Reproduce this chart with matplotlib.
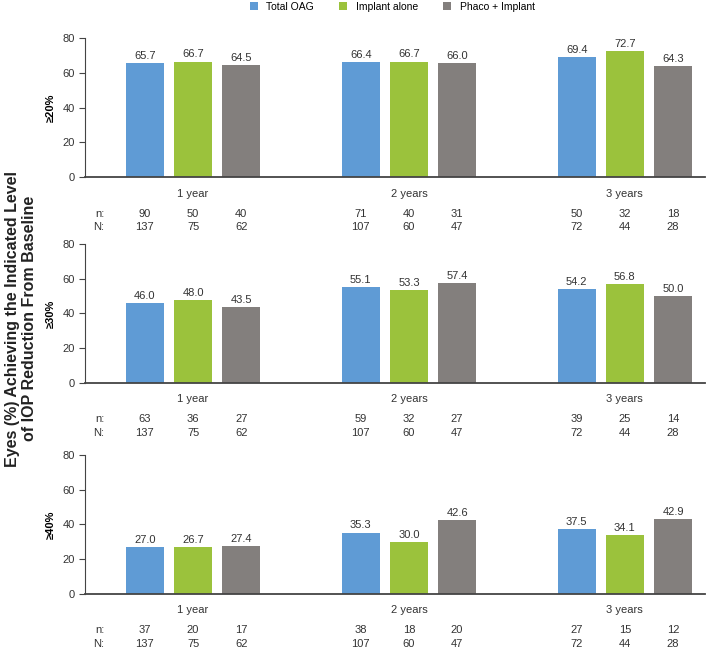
import matplotlib
matplotlib.use("Agg")
import matplotlib.pyplot as plt
from matplotlib.patches import Patch
import numpy as np

plt.rcParams["font.family"] = ["Liberation Sans", "DejaVu Sans"]

series = ["Total OAG", "Implant alone", "Phaco + Implant"]
colors = ["#5f9bd5", "#9bc23c", "#837f7d"]
years = ["1 year", "2 years", "3 years"]
levels = ["≥20%", "≥30%", "≥40%"]

# percent achieving, per level -> per series -> per year
pct_20 = [[65.7, 66.4, 69.4], [66.7, 66.7, 72.7], [64.5, 66.0, 64.3]]
pct_30 = [[46.0, 55.1, 54.2], [48.0, 53.3, 56.8], [43.5, 57.4, 50.0]]
pct_40 = [[27.0, 35.3, 37.5], [26.7, 30.0, 34.1], [27.4, 42.6, 42.9]]

n_20 = [[90, 71, 50], [50, 40, 32], [40, 31, 18]]
n_30 = [[63, 59, 39], [36, 32, 25], [27, 27, 14]]
n_40 = [[37, 38, 27], [20, 18, 15], [17, 20, 12]]
N_all = [[137, 107, 72], [75, 60, 44], [62, 47, 28]]

pcts = [pct_20, pct_30, pct_40]
ns = [n_20, n_30, n_40]

fig = plt.figure(figsize=(7.09, 6.52), dpi=100)

bottoms = [0.7285, 0.413, 0.0895]
x = np.arange(len(years))
offsets = [-0.223, 0.0, 0.223]
width = 0.176
tc = "#333333"

for p in range(3):
    ax = fig.add_axes([0.12, bottoms[p], 0.874, 0.2125])
    for s in range(3):
        bars = ax.bar(x + offsets[s], pcts[p][s], width=width, color=colors[s])
        ax.bar_label(bars, labels=[f"{v:.1f}" for v in pcts[p][s]],
                     padding=1.5, fontsize=8, color=tc)
    ax.set_ylim(0, 80)
    ax.set_yticks([0, 20, 40, 60, 80])
    ax.set_xlim(-0.5, 2.37)
    ax.set_xticks([])
    ax.spines["top"].set_visible(False)
    ax.spines["right"].set_visible(False)
    ax.spines["left"].set_color("#444444")
    ax.spines["bottom"].set_color("#444444")
    ax.spines["bottom"].set_linewidth(1.3)
    ax.tick_params(axis="y", labelsize=8, colors="#444444", labelcolor=tc, length=4)
    ax.set_ylabel(levels[p], fontsize=8, fontweight="bold", labelpad=5)

    tr = ax.get_xaxis_transform()
    for g in range(3):
        ax.text(x[g], -0.12, years[g], transform=tr, ha="center", va="center",
                fontsize=8, color=tc)
        for s in range(3):
            ax.text(x[g] + offsets[s], -0.265, str(ns[p][s][g]), transform=tr,
                    ha="center", va="center", fontsize=8, color=tc)
            ax.text(x[g] + offsets[s], -0.36, str(N_all[s][g]), transform=tr,
                    ha="center", va="center", fontsize=8, color=tc)
    ax.text(-0.41, -0.265, "n:", transform=tr, ha="right", va="center",
            fontsize=8, color=tc, clip_on=False)
    ax.text(-0.41, -0.36, "N:", transform=tr, ha="right", va="center",
            fontsize=8, color=tc, clip_on=False)

fig.text(0.03, 0.511, "Eyes (%) Achieving the Indicated Level\nof IOP Reduction From Baseline",
         rotation=90, ha="center", va="center", fontsize=11.5, fontweight="bold",
         color="#222222", linespacing=1.15)

handles = [Patch(facecolor=c, label=l) for c, l in zip(colors, series)]
fig.legend(handles=handles, loc="upper center", bbox_to_anchor=(0.553, 1.012), ncol=3,
           frameon=False, fontsize=7.5, handlelength=0.8, handleheight=0.8,
           columnspacing=2.4, handletextpad=0.8)

fig.savefig("out.png", dpi=100)
